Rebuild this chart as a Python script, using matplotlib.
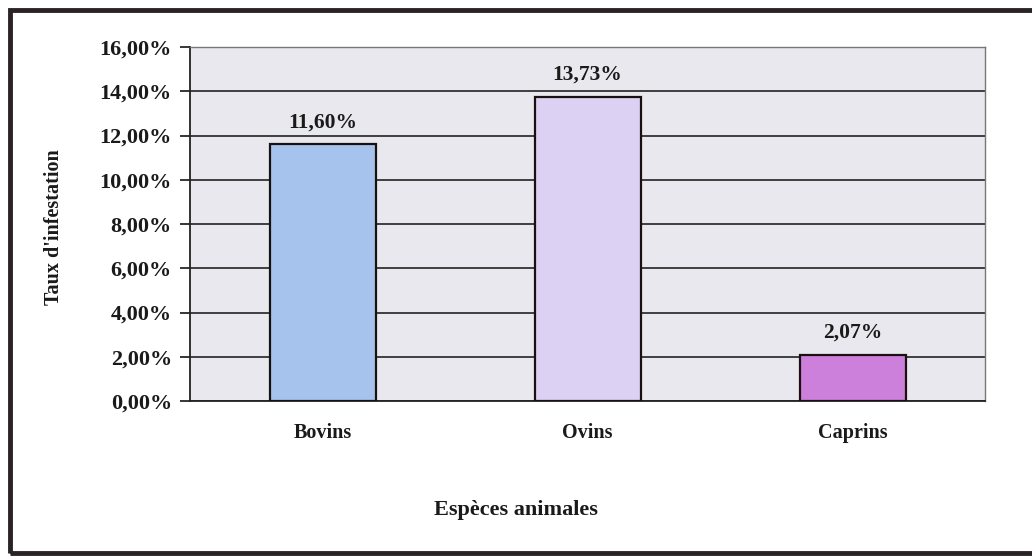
import matplotlib.pyplot as plt
from matplotlib.patches import Rectangle
from matplotlib.ticker import FuncFormatter

especes = ['Bovins', 'Ovins', 'Caprins']
taux = [11.60, 13.73, 2.07]
couleurs = ['#a6c3ee', '#ddd1f3', '#cc80dc']

plt.rcParams['font.family'] = ['Liberation Serif', 'DejaVu Serif']
plt.rcParams['font.weight'] = 'bold'

fig = plt.figure(figsize=(10.32, 5.56), dpi=100)

# cadre extérieur
fig.patches.append(Rectangle((10 / 1032, 3 / 556), 1.1, 543 / 556, transform=fig.transFigure,
                             fill=False, edgecolor='#2a2226', linewidth=3.5))

ax = fig.add_axes([190 / 1032, 1 - 401 / 556, 795 / 1032, 354 / 556])
ax.set_facecolor('#e8e8ee')

x = range(len(especes))
ax.bar(x, taux, width=0.4, color=couleurs, edgecolor='#1a1010', linewidth=1.6, zorder=3)
for xi, v in zip(x, taux):
    ax.text(xi, v + 0.55, f'{v:.2f}%'.replace('.', ','), ha='center', va='bottom',
            fontsize=15.5, fontweight='bold', color='#1a1a1a')

ax.set_xlim(-0.5, 2.5)
ax.set_ylim(0, 16)
ax.set_yticks(range(0, 17, 2))
ax.yaxis.set_major_formatter(FuncFormatter(lambda v, p: f'{v:.2f}%'.replace('.', ',')))
ax.grid(axis='y', color='#111111', linewidth=1.1, zorder=1)
ax.set_axisbelow(True)

ax.set_xticks(list(x))
ax.set_xticklabels(especes)
ax.tick_params(axis='x', length=0, pad=16, labelsize=14.5)
ax.tick_params(axis='y', length=7, width=1.1, pad=6, labelsize=16)
for lab in ax.get_xticklabels() + ax.get_yticklabels():
    lab.set_fontweight('bold')
    lab.set_color('#1a1a1a')

for s in ['top', 'right']:
    ax.spines[s].set_color('#777777')
    ax.spines[s].set_linewidth(1)
for s in ['left', 'bottom']:
    ax.spines[s].set_color('#222222')
    ax.spines[s].set_linewidth(1.3)

fig.text(54 / 1032, 1 - 227 / 556, "Taux d'infestation", rotation=90, ha='center', va='center',
         fontsize=14.5, fontweight='bold', color='#1a1a1a')
fig.text(516 / 1032, 1 - 510 / 556, 'Espèces animales', ha='center', va='center',
         fontsize=16, fontweight='bold', color='#1a1a1a')

fig.savefig('out.png', dpi=100)
